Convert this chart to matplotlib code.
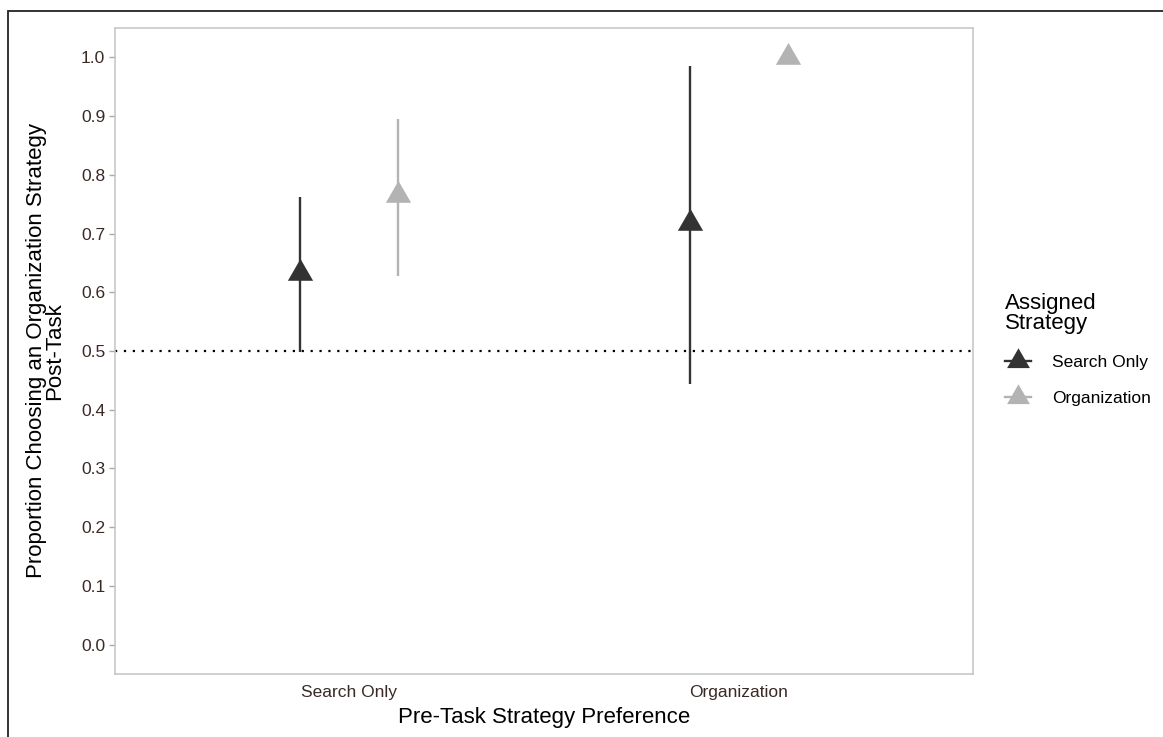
import matplotlib
matplotlib.use("Agg")
import matplotlib.pyplot as plt
from matplotlib.lines import Line2D
from matplotlib.patches import Rectangle
import numpy as np

plt.rcParams['font.family'] = ['Liberation Sans', 'DejaVu Sans']

# Data
categories = ["Search Only", "Organization"]          # Pre-task preference (x)
groups = ["Search Only", "Organization"]              # Assigned strategy
means = {"Search Only": [0.632, 0.718], "Organization": [0.765, 1.0]}
lower = {"Search Only": [0.499, 0.444], "Organization": [0.628, np.nan]}
upper = {"Search Only": [0.762, 0.986], "Organization": [0.895, np.nan]}
colors = {"Search Only": "#333333", "Organization": "#b3b3b3"}
offsets = {"Search Only": -0.125, "Organization": 0.125}
yticks = [0.0, 0.1, 0.2, 0.3, 0.4, 0.5, 0.6, 0.7, 0.8, 0.9, 1.0]

tri = [(0, 1), (-0.866, -0.5), (0.866, -0.5)]

fig = plt.figure(figsize=(11.63, 7.37), dpi=100)
ax = fig.add_axes([115/1163, 1-674/737, (973-115)/1163, (674-28)/737])

ax.axhline(0.5, color="black", linestyle=(0, (1, 3)), linewidth=1.6, zorder=1)

x0 = np.arange(1, len(categories)+1)
for g in groups:
    xs = x0 + offsets[g]
    for xi, m, lo, hi in zip(xs, means[g], lower[g], upper[g]):
        if not np.isnan(lo):
            ax.vlines(xi, lo, hi, color=colors[g], linewidth=1.7, zorder=2)
    ax.plot(xs, means[g], linestyle="none", marker=tri, markersize=21,
            color=colors[g], markeredgewidth=0, zorder=3)

ax.set_xlim(0.4, 2.6)
ax.set_ylim(-0.05, 1.05)
ax.set_xticks(x0)
ax.set_xticklabels(categories)
ax.set_yticks(yticks)
ax.set_yticklabels([f"{v:.1f}" for v in yticks])
ax.tick_params(axis="x", length=0, pad=8, labelsize=12.5, labelcolor="#3a2a25")
ax.tick_params(axis="y", length=4, width=1, color="#aaaaaa", pad=3,
               labelsize=12.5, labelcolor="#3a2a25")
for s in ax.spines.values():
    s.set_color("#c4c4c4")
    s.set_linewidth(1.1)

ax.set_xlabel("Pre-Task Strategy Preference", fontsize=16, color="black", labelpad=5)
ax.set_ylabel("Proportion Choosing an Organization Strategy\nPost-Task", fontsize=16,
              color="black", linespacing=0.8)
ax.yaxis.set_label_coords(-0.058, 0.5)

handles = [Line2D([0], [0], color=colors[g], marker=tri, markersize=19,
                  markeredgewidth=0, linewidth=1.7) for g in groups]
leg = fig.legend(handles, groups, title="Assigned\nStrategy", loc="upper left",
                 bbox_to_anchor=(1005/1163, 1-293/737), frameon=False,
                 fontsize=12.5, title_fontsize=16, handlelength=1.5,
                 handletextpad=1.2, labelspacing=1.2, alignment="left",
                 borderaxespad=0, borderpad=0)
leg.get_title().set_linespacing(0.95)

# outer frame
fig.patches.append(Rectangle((8/1163, -0.1), 1.2, 1-11/737+0.1,
                             transform=fig.transFigure, fill=False,
                             edgecolor="#222222", linewidth=1.3))

fig.savefig("out.png", dpi=100)
